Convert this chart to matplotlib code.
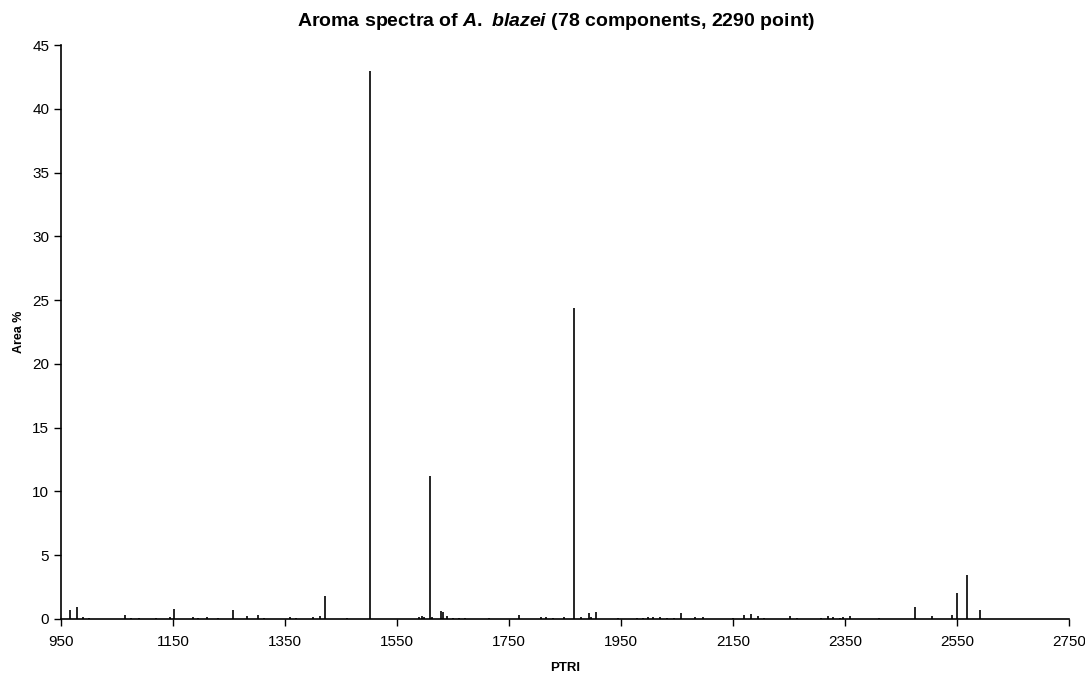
import matplotlib
matplotlib.use("Agg")
import matplotlib.pyplot as plt

plt.rcParams['font.family'] = ['Liberation Sans', 'DejaVu Sans']
plt.rcParams['mathtext.fontset'] = 'custom'
plt.rcParams['mathtext.it'] = 'Liberation Sans:italic:bold'
plt.rcParams['mathtext.rm'] = 'Liberation Sans:bold'

# retention index (PTRI) and peak area %
ptri = [966, 979, 990, 1000, 1065, 1075, 1090, 1145, 1152, 1185, 1195, 1210,
        1257, 1283, 1302, 1312, 1359, 1370, 1400, 1412, 1422, 1460, 1502,
        1590, 1594, 1598, 1609, 1612, 1629, 1632, 1639, 1650, 1660, 1672,
        1768, 1808, 1816, 1829, 1848, 1866, 1879, 1893, 1897, 1905, 1978,
        1990, 1999, 2008, 2020, 2032, 2044, 2058, 2082, 2097, 2150, 2170,
        2183, 2195, 2252, 2308, 2320, 2329, 2341, 2346, 2359, 2475, 2505,
        2542, 2550, 2568, 2591, 2264, 2206, 1120, 1230, 1715, 1945, 2410]
area = [0.68, 0.91, 0.16, 0.05, 0.31, 0.06, 0.05, 0.15, 0.73, 0.15, 0.08, 0.10,
        0.65, 0.20, 0.30, 0.06, 0.10, 0.05, 0.15, 0.25, 1.75, 0.05, 43.0,
        0.15, 0.25, 0.15, 11.2, 0.15, 0.60, 0.55, 0.20, 0.06, 0.05, 0.04,
        0.30, 0.10, 0.10, 0.05, 0.10, 24.4, 0.15, 0.45, 0.15, 0.55, 0.05,
        0.08, 0.12, 0.12, 0.10, 0.08, 0.06, 0.45, 0.10, 0.10, 0.05, 0.32,
        0.35, 0.20, 0.20, 0.08, 0.20, 0.10, 0.08, 0.12, 0.20, 0.94, 0.25,
        0.30, 2.0, 3.45, 0.72, 0.05, 0.04, 0.03, 0.04, 0.03, 0.03, 0.03]

fig = plt.figure(figsize=(10.85, 6.74), dpi=100)
ax = fig.add_axes([0.0562, 0.082, 0.929, 0.851])

ax.vlines(ptri, 0, area, colors='black', linewidth=1.2)

ax.set_xlim(950, 2750)
ax.set_ylim(0, 45)
ax.set_xticks(range(950, 2751, 200))
ax.set_yticks(range(0, 46, 5))
ax.tick_params(direction='out', length=5, width=1, labelsize=11, colors='black')
ax.tick_params(axis='x', pad=7)
for s in ['top', 'right']:
    ax.spines[s].set_visible(False)
for s in ['left', 'bottom']:
    ax.spines[s].set_linewidth(1.2)

ax.set_xlabel('PTRI', fontsize=9.5, fontweight='bold', labelpad=9)
ax.set_ylabel('Area %', fontsize=9, fontweight='bold', labelpad=5)
fig.text(0.5124, 1 - 22 / 674,
         r'Aroma spectra of $\mathit{A.}$ $\mathit{blazei}$ (78 components, 2290 point)',
         fontsize=14, fontweight='bold', ha='center', va='center')

fig.savefig('out.png', dpi=100)
